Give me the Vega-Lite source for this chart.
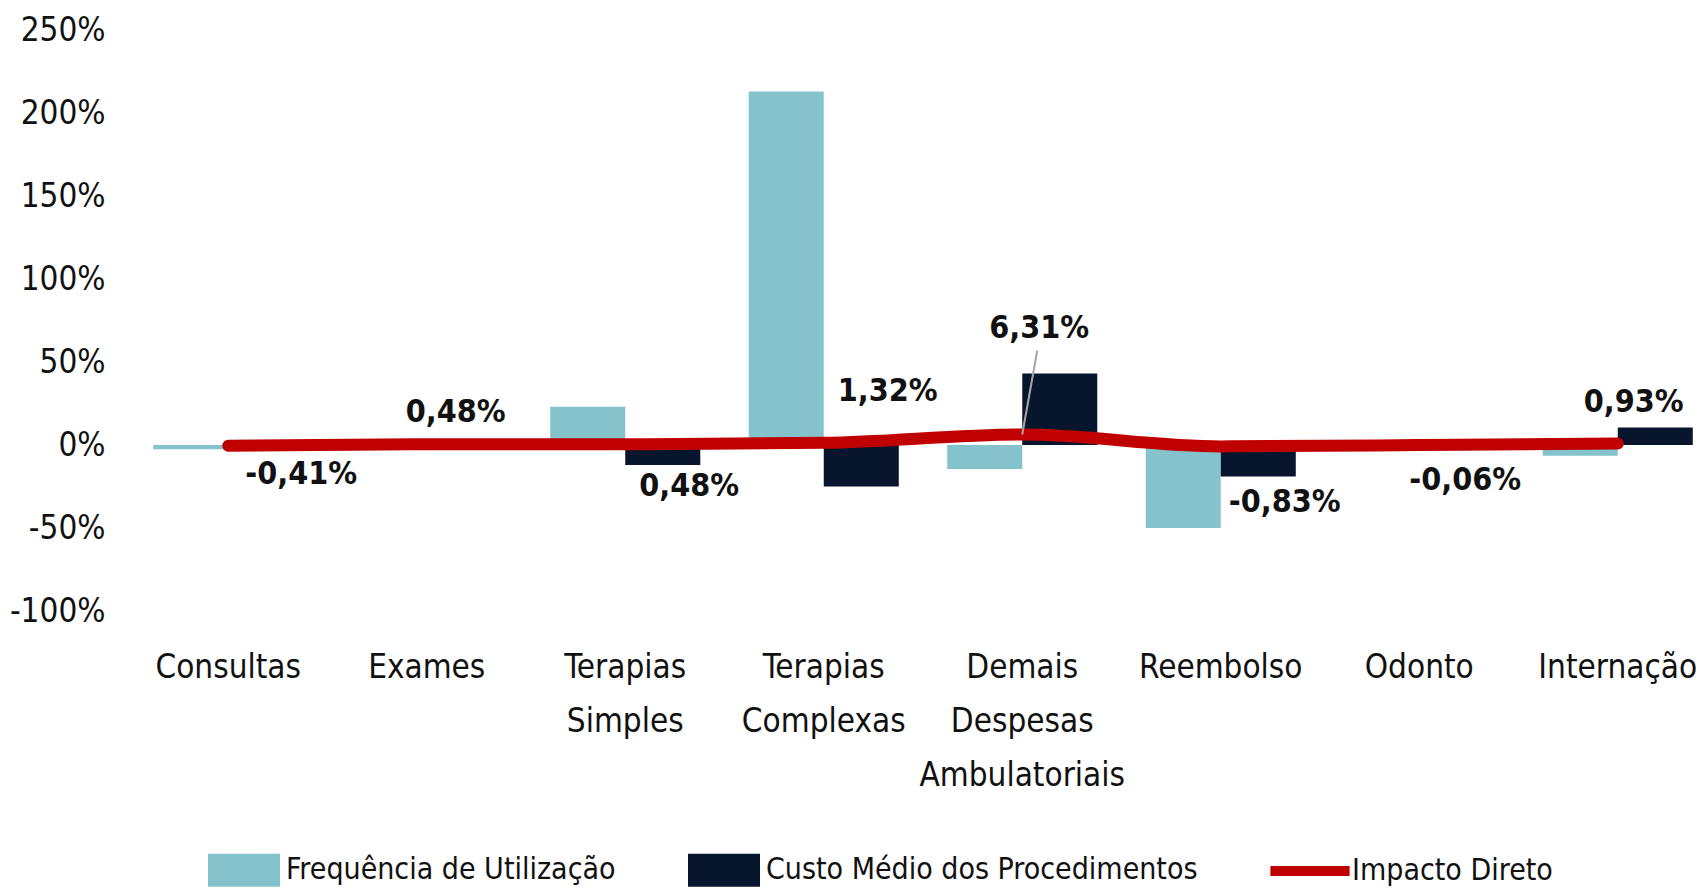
{
  "$schema": "https://vega.github.io/schema/vega-lite/v6.json",
  "autosize": "none",
  "width": 1574,
  "height": 581,
  "padding": {"left": 129, "top": 30, "right": 0, "bottom": 280},
  "background": "white",
  "config": {
    "view": {"stroke": null},
    "font": "DejaVu Sans Condensed, sans-serif",
    "axis": {"labelFont": "DejaVu Sans Condensed, sans-serif", "labelColor": "#111111", "labelFontSize": 33, "labelLimit": 0},
    "legend": {"labelFont": "DejaVu Sans Condensed, sans-serif", "labelColor": "#111111", "labelFontSize": 30, "labelLimit": 0}
  },
  "datasets": {
    "barras": [
      {"categoria": "Consultas", "serie": "Frequência de Utilização", "valor": -2.5},
      {"categoria": "Consultas", "serie": "Custo Médio dos Procedimentos", "valor": 1},
      {"categoria": "Exames", "serie": "Frequência de Utilização", "valor": 1.5},
      {"categoria": "Exames", "serie": "Custo Médio dos Procedimentos", "valor": -1},
      {"categoria": "Terapias Simples", "serie": "Frequência de Utilização", "valor": 23},
      {"categoria": "Terapias Simples", "serie": "Custo Médio dos Procedimentos", "valor": -12},
      {"categoria": "Terapias Complexas", "serie": "Frequência de Utilização", "valor": 213},
      {"categoria": "Terapias Complexas", "serie": "Custo Médio dos Procedimentos", "valor": -25},
      {"categoria": "Demais Despesas Ambulatoriais", "serie": "Frequência de Utilização", "valor": -14.5},
      {"categoria": "Demais Despesas Ambulatoriais", "serie": "Custo Médio dos Procedimentos", "valor": 43},
      {"categoria": "Reembolso", "serie": "Frequência de Utilização", "valor": -50},
      {"categoria": "Reembolso", "serie": "Custo Médio dos Procedimentos", "valor": -19},
      {"categoria": "Odonto", "serie": "Frequência de Utilização", "valor": 1},
      {"categoria": "Odonto", "serie": "Custo Médio dos Procedimentos", "valor": -1.5},
      {"categoria": "Internação", "serie": "Frequência de Utilização", "valor": -6.5},
      {"categoria": "Internação", "serie": "Custo Médio dos Procedimentos", "valor": 10.5}
    ],
    "impacto": [
      {"categoria": "Consultas", "valor": -0.41, "rotulo": "-0,41%"},
      {"categoria": "Exames", "valor": 0.48, "rotulo": "0,48%"},
      {"categoria": "Terapias Simples", "valor": 0.48, "rotulo": "0,48%"},
      {"categoria": "Terapias Complexas", "valor": 1.32, "rotulo": "1,32%"},
      {"categoria": "Demais Despesas Ambulatoriais", "valor": 6.31, "rotulo": "6,31%"},
      {"categoria": "Reembolso", "valor": -0.83, "rotulo": "-0,83%"},
      {"categoria": "Odonto", "valor": -0.06, "rotulo": "-0,06%"},
      {"categoria": "Internação", "valor": 0.93, "rotulo": "0,93%"}
    ]
  },
  "encoding": {
    "x": {
      "field": "categoria", "type": "nominal",
      "sort": ["Consultas", "Exames", "Terapias Simples", "Terapias Complexas", "Demais Despesas Ambulatoriais", "Reembolso", "Odonto", "Internação"],
      "scale": {"range": [0, 1588], "paddingInner": 0.244, "paddingOuter": 0.122},
      "axis": {"title": null, "domain": false, "ticks": false, "labelAngle": 0, "labelPadding": 40, "labelLineHeight": 54, "labelExpr": "split(datum.label, ' ')"}
    },
    "y": {
      "field": "valor", "type": "quantitative",
      "scale": {"domain": [-100, 250], "nice": false, "zero": false},
      "axis": {"title": null, "domain": false, "ticks": false, "grid": false, "values": [-100, -50, 0, 50, 100, 150, 200, 250], "labelExpr": "datum.value + '%'", "labelPadding": 24}
    }
  },
  "layer": [
    {
      "data": {"name": "barras"},
      "mark": {"type": "bar"},
      "encoding": {
        "xOffset": {"field": "serie", "type": "nominal", "scale": {"domain": ["Frequência de Utilização", "Custo Médio dos Procedimentos"], "paddingInner": 0, "paddingOuter": 0}},
        "color": {
          "field": "serie", "type": "nominal",
          "scale": {"domain": ["Frequência de Utilização", "Custo Médio dos Procedimentos", "Impacto Direto"], "range": ["#85C3CC", "#08162D", "#C00000"]},
          "legend": {
            "title": null, "orient": "none", "direction": "horizontal", "legendX": 79, "legendY": 804,
            "symbolSize": 5184, "labelOffset": 6, "columnPadding": 72, "padding": 0, "symbolStrokeWidth": 0,
            "encode": {
              "symbols": {"update": {
                "shape": {"signal": "datum.value === 'Impacto Direto' ? 'M-1.1,-0.14H1.1V0.14H-1.1Z' : 'M-1,-0.46H1V0.46H-1Z'"},
                "fill": {"scale": "color", "field": "value"},
                "opacity": {"value": 1},
                "strokeWidth": {"value": 0}
              }}
            }
          }
        }
      }
    },
    {
      "data": {"values": [{}]},
      "mark": {"type": "rule", "color": "#D9D9D9", "strokeWidth": 3},
      "encoding": {"x": null, "y": {"datum": 0, "type": "quantitative"}}
    },
    {
      "data": {"name": "impacto"},
      "mark": {"type": "line", "interpolate": "monotone", "strokeWidth": 12, "strokeCap": "round", "strokeJoin": "round"},
      "encoding": {"color": {"datum": "Impacto Direto", "type": "nominal"}}
    },
    {
      "data": {"name": "impacto"},
      "transform": [{"filter": "datum.categoria === 'Demais Despesas Ambulatoriais'"}],
      "mark": {"type": "rule", "color": "#A6A6A6", "strokeWidth": 2, "x2Offset": 15, "y2Offset": -84},
      "encoding": {"x2": {"field": "categoria"}, "y2": {"field": "valor"}}
    },
    {
      "data": {"name": "impacto"},
      "transform": [{"filter": "datum.categoria === 'Consultas'"}],
      "mark": {"type": "text", "fontSize": 32, "fontWeight": "bold", "color": "#111111", "dx": 73, "dy": 28},
      "encoding": {"text": {"field": "rotulo"}}
    },
    {
      "data": {"name": "impacto"},
      "transform": [{"filter": "datum.categoria === 'Exames'"}],
      "mark": {"type": "text", "fontSize": 32, "fontWeight": "bold", "color": "#111111", "dx": 29, "dy": -32},
      "encoding": {"text": {"field": "rotulo"}}
    },
    {
      "data": {"name": "impacto"},
      "transform": [{"filter": "datum.categoria === 'Terapias Simples'"}],
      "mark": {"type": "text", "fontSize": 32, "fontWeight": "bold", "color": "#111111", "dx": 64, "dy": 42},
      "encoding": {"text": {"field": "rotulo"}}
    },
    {
      "data": {"name": "impacto"},
      "transform": [{"filter": "datum.categoria === 'Terapias Complexas'"}],
      "mark": {"type": "text", "fontSize": 32, "fontWeight": "bold", "color": "#111111", "dx": 64, "dy": -52},
      "encoding": {"text": {"field": "rotulo"}}
    },
    {
      "data": {"name": "impacto"},
      "transform": [{"filter": "datum.categoria === 'Demais Despesas Ambulatoriais'"}],
      "mark": {"type": "text", "fontSize": 32, "fontWeight": "bold", "color": "#111111", "dx": 17, "dy": -107},
      "encoding": {"text": {"field": "rotulo"}}
    },
    {
      "data": {"name": "impacto"},
      "transform": [{"filter": "datum.categoria === 'Reembolso'"}],
      "mark": {"type": "text", "fontSize": 32, "fontWeight": "bold", "color": "#111111", "dx": 64, "dy": 56},
      "encoding": {"text": {"field": "rotulo"}}
    },
    {
      "data": {"name": "impacto"},
      "transform": [{"filter": "datum.categoria === 'Odonto'"}],
      "mark": {"type": "text", "fontSize": 32, "fontWeight": "bold", "color": "#111111", "dx": 46, "dy": 35},
      "encoding": {"text": {"field": "rotulo"}}
    },
    {
      "data": {"name": "impacto"},
      "transform": [{"filter": "datum.categoria === 'Internação'"}],
      "mark": {"type": "text", "fontSize": 32, "fontWeight": "bold", "color": "#111111", "dx": 16, "dy": -41},
      "encoding": {"text": {"field": "rotulo"}}
    }
  ]
}
